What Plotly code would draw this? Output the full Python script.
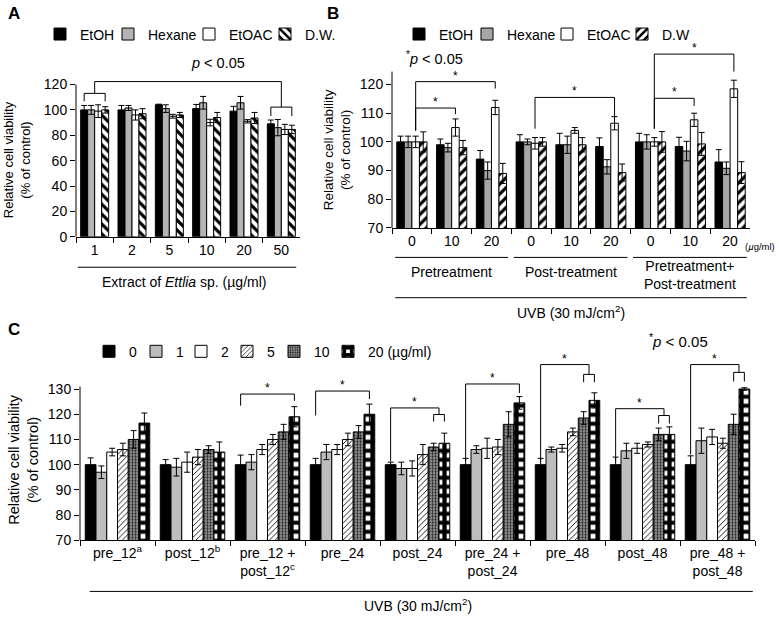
import plotly.graph_objects as go

W, H = 779, 622


def fx(p):
    return p / W


def fy(p):
    return 1 - p / H


# ---------------- Panel A data ----------------
a_labels = ["1", "2", "5", "10", "20", "50"]
a_names = ["EtOH", "Hexane", "EtOAC", "D.W."]
a_etoh = [100, 100, 104, 101, 99, 89]
a_etoh_err = [3.5, 3.5, 0.5, 3.3, 3.8, 3]
a_hexane = [100, 101.5, 101, 105.6, 105.6, 86]
a_hexane_err = [3.5, 2, 3, 5, 5, 6.4]
a_etoac = [99, 96, 95, 90, 91, 84.6]
a_etoac_err = [5, 4, 1.5, 2.6, 1.3, 4]
a_dw = [100, 97, 96, 94, 93.6, 84.6]
a_dw_err = [2.5, 4, 2, 4, 4.4, 3.3]

# ---------------- Panel B data ----------------
b_labels = ["0", "10", "20", "0", "10", "20", "0", "10", "20"]
b_groups = ["Pretreatment", "Post-treatment", "Pretreatment+<br>Post-treatment"]
b_names = ["EtOH", "Hexane", "EtOAC", "D.W"]
b_etoh = [100, 99, 94, 100, 99, 98.4, 100, 98.4, 93]
b_etoh_err = [2, 2, 3, 2.5, 4, 3, 3, 3.2, 4.3]
b_hexane = [100, 98, 90, 100, 99, 91.3, 100, 96.8, 90.8]
b_hexane_err = [2, 1.5, 3, 1, 3, 2.5, 2.5, 3.4, 2.2]
b_etoac = [100, 105, 112, 99.5, 104, 106.5, 100, 107.7, 118.5]
b_etoac_err = [2, 3, 2.5, 2, 1, 2.3, 1.5, 2.3, 3]
b_dw = [100, 98, 89, 100, 99, 89.3, 100, 99.3, 89.3]
b_dw_err = [3.5, 2.5, 3.5, 1.5, 2.5, 3, 3.6, 4, 3.8]

# ---------------- Panel C data ----------------
c_labels = ["pre_12<sup>a</sup>", "post_12<sup>b</sup>", "pre_12 +<br>post_12<sup>c</sup>",
            "pre_24", "post_24", "pre_24 +<br>post_24", "pre_48", "post_48",
            "pre_48 +<br>post_48"]
c_names = ["0", "1", "2", "5", "10", "20 (µg/ml)"]
c_0 = [100, 100, 100, 100, 100, 100, 100, 100, 100]
c_0_err = [2.7, 2, 3.8, 2.5, 1, 2.5, 2.5, 3, 3.5]
c_1 = [97, 99, 101, 105, 98.5, 106, 106, 105.5, 109.5]
c_1_err = [2.5, 3.5, 3, 3, 2.5, 1.5, 1, 3, 5]
c_2 = [105, 101, 106, 106, 98.5, 106.5, 106.5, 106.5, 111]
c_2_err = [1.5, 4, 2, 2, 3, 4, 1.5, 2, 3]
c_5 = [106, 103, 110, 110, 104, 107, 113, 108, 108.5]
c_5_err = [2.5, 3, 2, 2.5, 4, 3, 1.5, 1, 2]
c_10 = [110, 106, 113, 113, 107, 116, 118.5, 112, 116]
c_10_err = [3.5, 1.5, 3, 2.5, 1.5, 5, 2.5, 2.5, 4]
c_20 = [116.5, 105, 119, 120, 108.5, 124.5, 125.5, 112, 130]
c_20_err = [4, 4, 4, 4, 4, 2.5, 3, 3, 0.5]

FONT = "Liberation Sans, Arial, sans-serif"
TXT = "#000000"

A_FRAC, B_FRAC, C_FRAC = 0.75, 0.76, 0.86

a_keys = ["a%d" % i for i in range(len(a_labels))]
b_keys = ["b%d" % i for i in range(len(b_labels))]
c_keys = ["c%d" % i for i in range(len(c_labels))]


def off(n, frac, j):
    return -frac / 2 + j * frac / n


def center(n, frac, j):
    return -frac / 2 + (j + 0.5) * frac / n


def pattern(shape=None, fg="black", bg="white", size=6, solidity=0.4):
    if shape is None:
        return dict(shape="")
    return dict(shape=shape, fgcolor=fg, bgcolor=bg, size=size, solidity=solidity, fillmode="replace")


a_style = [
    dict(color="black", pattern=pattern()),
    dict(color="#b4b4b4", pattern=pattern()),
    dict(color="white", pattern=pattern()),
    dict(color="white", pattern=pattern("\\", size=7, solidity=0.45)),
]
b_style = [
    dict(color="black", pattern=pattern()),
    dict(color="#a6a6a6", pattern=pattern()),
    dict(color="white", pattern=pattern()),
    dict(color="white", pattern=pattern("/", size=7, solidity=0.45)),
]
c_style = [
    dict(color="black", pattern=pattern()),
    dict(color="#bdbdbd", pattern=pattern()),
    dict(color="white", pattern=pattern()),
    dict(color="white", pattern=pattern("/", size=4, solidity=0.22)),
    dict(color="#9a9a9a", pattern=pattern(".", fg="#222222", bg="#a0a0a0", size=3, solidity=0.45)),
    dict(color="white", pattern=pattern("+", size=9, solidity=0.72)),
]

fig = go.Figure()
legends = {}
leg_count = [0]


def add_legend(icon_left, y_center):
    # one legend per entry so each swatch can sit where the reference puts it
    leg_count[0] += 1
    name = "legend" if leg_count[0] == 1 else "legend%d" % leg_count[0]
    legends[name] = dict(
        x=fx(icon_left - 12), y=fy(y_center), xanchor="left", yanchor="middle",
        orientation="h", bgcolor="rgba(0,0,0,0)", borderwidth=0,
        font=dict(size=14, family=FONT, color=TXT), itemwidth=30,
        itemclick=False, itemdoubleclick=False,
    )
    return name


def add_panel(keys, names, values, errs, styles, frac, xa, ya, leg_pos):
    n = len(names)
    for j in range(n):
        st = styles[j]
        lg = add_legend(*leg_pos[j])
        fig.add_trace(go.Bar(
            x=keys, y=values[j], name=names[j], xaxis=xa, yaxis=ya,
            width=frac / n, offset=off(n, frac, j),
            marker=dict(color=st["color"], pattern=st["pattern"],
                        line=dict(color="black", width=1)),
            error_y=dict(type="data", array=errs[j], color="black", thickness=1, width=3),
            legend=lg, showlegend=True,
        ))


add_panel(a_keys, a_names, [a_etoh, a_hexane, a_etoac, a_dw],
          [a_etoh_err, a_hexane_err, a_etoac_err, a_dw_err], a_style, A_FRAC, "x", "y",
          [(52, 32), (120, 32), (201, 32), (277, 32)])
add_panel(b_keys, b_names, [b_etoh, b_hexane, b_etoac, b_dw],
          [b_etoh_err, b_hexane_err, b_etoac_err, b_dw_err], b_style, B_FRAC, "x2", "y2",
          [(411, 32), (479, 32), (559, 32), (634, 32)])
add_panel(c_keys, c_names, [c_0, c_1, c_2, c_5, c_10, c_20],
          [c_0_err, c_1_err, c_2_err, c_5_err, c_10_err, c_20_err], c_style, C_FRAC, "x3", "y3",
          [(101, 355), (148, 355), (193, 355), (239, 355), (286, 355), (340, 355)])

tickfont = dict(size=14, family=FONT, color=TXT)


def xaxis(dom, keys, labels, anchor):
    return dict(type="category", domain=[fx(dom[0]), fx(dom[1])], anchor=anchor,
                categoryorder="array", categoryarray=keys, range=[-0.5, len(keys) - 0.5],
                tickmode="array", tickvals=keys, ticktext=labels, tickson="boundaries",
                ticks="outside", ticklen=5, tickcolor="black", showline=True,
                linecolor="black", linewidth=1, showgrid=False, zeroline=False,
                tickfont=tickfont, fixedrange=True)


def yaxis(dom, rng, tv, anchor):
    return dict(domain=[fy(dom[1]), fy(dom[0])], anchor=anchor, range=rng,
                tickmode="array", tickvals=tv, ticks="outside", ticklen=5,
                tickcolor="black", showline=False, showgrid=False, zeroline=False,
                tickfont=tickfont, fixedrange=True)


shapes = []
annotations = []


def line(xr, yr, x0, y0, x1, y1, w=1):
    shapes.append(dict(type="line", xref=xr, yref=yr, x0=x0, y0=y0, x1=x1, y1=y1,
                       line=dict(color="black", width=w)))


def text(x, y, s, size=14, xref="paper", yref="paper", angle=0, xanchor="center",
         yanchor="middle", yshift=0):
    annotations.append(dict(x=x, y=y, xref=xref, yref=yref, text=s, showarrow=False,
                            textangle=angle, xanchor=xanchor, yanchor=yanchor, yshift=yshift,
                            font=dict(size=size, family=FONT, color=TXT)))


def bracket(xr, yr, xl, yl, xrt, yrt, ytop, star=True):
    line(xr, yr, xl, yl, xl, ytop)
    line(xr, yr, xl, ytop, xrt, ytop)
    line(xr, yr, xrt, ytop, xrt, yrt)
    if star:
        text((xl + xrt) / 2, ytop, "*", size=12, xref=xr, yref=yr, yanchor="bottom", yshift=-3)


def cap(xr, yr, x0, x1, ytop, ybot):
    line(xr, yr, x0, ybot, x0, ytop)
    line(xr, yr, x0, ytop, x1, ytop)
    line(xr, yr, x1, ytop, x1, ybot)


# y-axis lines (drawn only over the labelled range)
line("x domain", "y", 0, 0, 0, 120)
line("x2 domain", "y2", 0, 70, 0, 124.5)
line("x3 domain", "y3", 0, 70, 0, 131)

# ---- Panel A annotations ----
pa = lambda i, j: i + center(4, A_FRAC, j)
cap("x", "y", pa(0, 0), pa(0, 3), 113, 106.8)
cap("x", "y", pa(5, 0), pa(5, 3), 102.2, 95.2)
bracket("x", "y", 0, 113, 5, 102.2, 122.3, star=False)
text(fx(218), fy(61), "<i>p</i> < 0.05", size=14.5)
text(fx(17), fy(160), "Relative cell viability<br>(% of control)", size=13, angle=-90)
line("x", "paper", -0.45, fy(269), 5.4, fy(269))
text(fx(184), fy(284), "Extract of <i>Ettlia</i> sp. (µg/ml)", size=14)
text(fx(6), fy(11), "<b>A</b>", size=17, xanchor="left")

# ---- Panel B annotations ----
pb = lambda i, j: i + center(4, B_FRAC, j)
bracket("x2", "y2", pb(0, 2), 103.9, pb(2, 2), 118.6, 121)
bracket("x2", "y2", pb(0, 2), 103.9, pb(1, 2), 109.7, 111.8)
bracket("x2", "y2", pb(3, 2), 104.6, pb(5, 2), 108, 115.5)
bracket("x2", "y2", pb(6, 2), 104.6, pb(8, 2), 124.5, 130.6)
bracket("x2", "y2", pb(6, 2), 104.6, pb(7, 2), 112.5, 115.2)
text(fx(434), fy(56), "<sup>*</sup><i>p</i> < 0.05", size=14.5)
text(fx(337), fy(150), "Relative cell viability<br>(% of control)", size=13.5, angle=-90)
text(fx(777), fy(248), "(<i>µ</i>g/ml)", size=9.5, xanchor="right")
for g, (lo, hi) in enumerate([(-0.42, 2.42), (2.56, 5.42), (5.56, 8.42)]):
    line("x2", "paper", lo, fy(259), hi, fy(259))
    text(3 * g + 1, fy(277 if g == 2 else 274), b_groups[g], size=14, xref="x2")
line("x2", "paper", -0.42, fy(300), 8.42, fy(300))
text(4, fy(315), "UVB (30 mJ/cm<sup>2</sup>)", size=14, xref="x2")
text(fx(325), fy(11), "<b>B</b>", size=17, xanchor="left")

# ---- Panel C annotations ----
pc = lambda i, j: i + center(6, C_FRAC, j)
mid45 = lambda i: (pc(i, 4) + pc(i, 5)) / 2
bracket("x3", "y3", pc(2, 0), 123.4, pc(2, 5), 125.3, 128)
bracket("x3", "y3", pc(3, 0), 119.5, pc(3, 5), 126, 129.2)
bracket("x3", "y3", pc(4, 0), 101.3, mid45(4), 119.9, 122.5)
cap("x3", "y3", pc(4, 4), pc(4, 5), 119.9, 117.1)
bracket("x3", "y3", pc(5, 0), 101.5, pc(5, 5), 128.4, 132)
bracket("x3", "y3", pc(6, 0), 101.5, mid45(6), 135.8, 139.7)
cap("x3", "y3", pc(6, 4), pc(6, 5), 135.8, 132.7)
bracket("x3", "y3", pc(7, 0), 101.5, mid45(7), 119.5, 122.2)
cap("x3", "y3", pc(7, 4), pc(7, 5), 119.5, 116.3)
bracket("x3", "y3", pc(8, 0), 104, mid45(8), 136.6, 139.7)
cap("x3", "y3", pc(8, 4), pc(8, 5), 136.6, 133)
text(fx(678), fy(344), "<sup>*</sup><i>p</i> < 0.05", size=15)
text(fx(24), fy(465), "Relative cell viability<br>(% of control)", size=14.5, angle=-90)
line("x3", "paper", -0.37, fy(599), 8.47, fy(599))
text(4, fy(613), "UVB (30 mJ/cm<sup>2</sup>)", size=14, xref="x3")
text(fx(6), fy(332), "<b>C</b>", size=17, xanchor="left")

layout = dict(
    width=W, height=H, margin=dict(l=0, r=0, t=0, b=0),
    paper_bgcolor="white", plot_bgcolor="rgba(0,0,0,0)",
    barmode="overlay", font=dict(family=FONT, color=TXT),
    xaxis=xaxis((76, 300), a_keys, a_labels, "y"),
    yaxis=yaxis((77.8, 238), [0, 124], [0, 20, 40, 60, 80, 100, 120], "x"),
    xaxis2=xaxis((392, 750), b_keys, b_labels, "y2"),
    yaxis2=yaxis((42.1, 229), [70, 134], [70, 80, 90, 100, 110, 120], "x2"),
    xaxis3=xaxis((80, 755), c_keys, c_labels, "y3"),
    yaxis3=yaxis((359.6, 547), [70, 143], [70, 80, 90, 100, 110, 120, 130], "x3"),
    shapes=shapes, annotations=annotations,
)
layout.update(legends)
fig.update_layout(**layout)
fig.write_html("out.html", config={"displayModeBar": False},
               post_script="document.body.style.margin='0';")
